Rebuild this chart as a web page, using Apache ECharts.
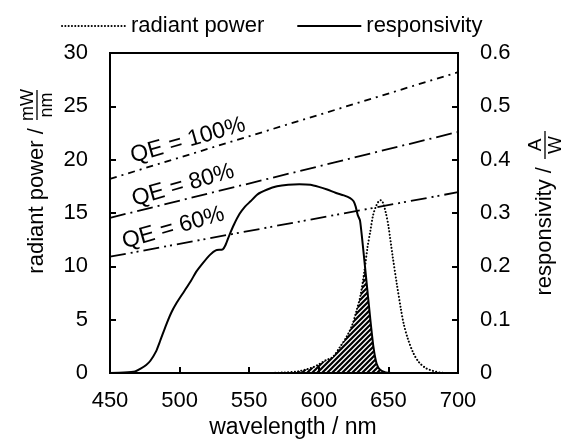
<!DOCTYPE html>
<html>
<head>
<meta charset="utf-8">
<script src="https://cdn.jsdelivr.net/npm/echarts@6/dist/echarts.min.js"></script>
<style>
    html, body { margin: 0; padding: 0; background: #fff; }
    #chart { width: 564px; height: 441px; }
</style>
</head>
<body>
<div id="chart"></div>
<script>
    // radiant power of the source, mW/nm
    const powerWl  = [450, 560, 575, 585, 590, 595, 600, 605, 610, 615, 620, 624, 627, 630, 633, 635, 637, 639, 641, 643, 644.5, 646, 648, 650, 653, 656, 659, 661, 664, 668, 672, 677, 682, 687, 695, 700];
    const powerVal = [0, 0, 0.05, 0.15, 0.3, 0.5, 0.8, 1.2, 1.5, 2.4, 3.4, 4.5, 5.8, 7.3, 9.8, 11.8, 13.3, 14.8, 15.6, 16.1, 16.2, 16.0, 15.1, 13.8, 11.0, 8.4, 6.0, 4.6, 3.2, 1.85, 1.0, 0.45, 0.2, 0.05, 0, 0];

    // detector responsivity, A/W
    const respWl  = [450, 460, 468, 472, 476, 479, 483, 486, 490, 494, 498, 503, 508, 512, 517, 522, 526, 531, 533, 536, 539, 543, 547, 551, 556, 563, 570, 578, 586, 594, 600, 606, 612, 618, 622.5, 625, 626.5, 628, 629.6, 632, 634.4, 636.8, 639.2, 641.5, 644, 648, 652, 700];
    const respVal = [0, 0.001, 0.003, 0.008, 0.015, 0.023, 0.04, 0.06, 0.088, 0.113, 0.132, 0.152, 0.172, 0.19, 0.207, 0.222, 0.23, 0.232, 0.24, 0.26, 0.278, 0.298, 0.312, 0.322, 0.335, 0.344, 0.35, 0.353, 0.354, 0.353, 0.349, 0.344, 0.338, 0.333, 0.328, 0.322, 0.312, 0.296, 0.286, 0.23, 0.168, 0.106, 0.05, 0.018, 0.006, 0.001, 0, 0];

    // hatched overlap, mW/nm scale
    const overlapWl  = [580, 585, 590, 595, 600, 605, 610, 615, 620, 624, 627, 630, 633.2, 634.4, 636.8, 639.2, 641.5, 644, 648, 650];
    const overlapVal = [0, 0.15, 0.3, 0.5, 0.8, 1.2, 1.5, 2.4, 3.4, 4.5, 5.8, 7.3, 10.0, 8.4, 5.3, 2.5, 0.9, 0.3, 0.05, 0];

    // quantum efficiency reference lines, A/W
    const qeWl  = [450, 700];
    const qe100 = [0.364, 0.564];
    const qe80  = [0.291, 0.452];
    const qe60  = [0.218, 0.339];
    const qeNames = ['QE = 100%', 'QE = 80%', 'QE = 60%'];
    const qeLabelAt = [[506, 21.8], [502.5, 17.6], [495.5, 13.6]];

    const pairs = (xs, ys) => xs.map((x, i) => [x, ys[i]]);
    const FONT = 'Liberation Sans, Arial, sans-serif';

    let hatch = document.createElement('canvas');
    hatch.width = 5; hatch.height = 5;
    let hc = hatch.getContext('2d');
    hc.strokeStyle = '#000';
    hc.lineWidth = 2.2;
    hc.beginPath();
    hc.moveTo(-1, 6); hc.lineTo(6, -1);
    hc.moveTo(-3.5, 3.5); hc.lineTo(3.5, -3.5);
    hc.moveTo(1.5, 8.5); hc.lineTo(8.5, 1.5);
    hc.stroke();

    let chart = echarts.init(document.getElementById('chart'));

    const qeLine = (name, data, dash) => ({
        name: name,
        type: 'line',
        yAxisIndex: 1,
        data: pairs(qeWl, data),
        symbol: 'none',
        silent: true,
        lineStyle: { color: '#000', width: 1.8, type: dash }
    });

    const option = {
        animation: false,
        textStyle: { fontFamily: FONT },
        legend: {
            data: ['radiant power', 'responsivity'],
            top: 10,
            left: 56,
            itemWidth: 64,
            itemGap: 32,
            itemStyle: { color: 'transparent', borderColor: 'transparent', borderWidth: 0 },
            textStyle: { fontSize: 22, color: '#000', fontFamily: FONT }
        },
        grid: {
            left: 110, right: 106, top: 53, bottom: 68,
            show: true, borderColor: '#000', borderWidth: 2
        },
        xAxis: {
            type: 'value',
            min: 450, max: 700, interval: 50,
            axisLine: { lineStyle: { color: '#000', width: 2 } },
            axisTick: { inside: true, length: 6, lineStyle: { color: '#000', width: 2 } },
            axisLabel: { fontSize: 22, color: '#000', margin: 17 },
            splitLine: { show: false }
        },
        yAxis: [{
            type: 'value',
            min: 0, max: 30, interval: 5,
            axisLine: { show: true, lineStyle: { color: '#000', width: 2 } },
            axisTick: { show: true, inside: true, length: 6, lineStyle: { color: '#000', width: 2 } },
            axisLabel: { fontSize: 22, color: '#000', margin: 22 },
            splitLine: { show: false }
        }, {
            type: 'value',
            min: 0, max: 0.6, interval: 0.1,
            position: 'right',
            axisLine: { show: true, lineStyle: { color: '#000', width: 2 } },
            axisTick: { show: true, inside: true, length: 6, lineStyle: { color: '#000', width: 2 } },
            axisLabel: { fontSize: 22, color: '#000', margin: 22 },
            splitLine: { show: false }
        }],
        series: [
            {
                name: 'overlap',
                type: 'line',
                data: pairs(overlapWl, overlapVal),
                symbol: 'none',
                silent: true,
                z: 1,
                lineStyle: { width: 0 },
                areaStyle: { color: { image: hatch, repeat: 'repeat' }, opacity: 1 }
            },
            qeLine('qe100', qe100, [7, 5, 2, 5]),
            qeLine('qe80', qe80, [16, 5, 2, 5]),
            qeLine('qe60', qe60, [16, 5, 2, 4, 2, 5]),
            {
                name: 'radiant power',
                type: 'line',
                data: pairs(powerWl, powerVal),
                symbol: 'none',
                smooth: 0.3,
                z: 3,
                itemStyle: { color: '#000' },
                lineStyle: { color: '#000', width: 2, type: [0.1, 3.2], cap: 'round' }
            },
            {
                name: 'responsivity',
                type: 'line',
                yAxisIndex: 1,
                data: pairs(respWl, respVal),
                symbol: 'none',
                smooth: 0.2,
                z: 4,
                itemStyle: { color: '#000' },
                lineStyle: { color: '#000', width: 2 }
            }
        ]
    };

    chart.setOption(option);

    // QE labels and axis titles with stacked unit fractions
    let graphics = qeNames.map((t, i) => {
        const p = chart.convertToPixel({ xAxisIndex: 0, yAxisIndex: 0 }, qeLabelAt[i]);
        return {
            type: 'text', x: p[0], y: p[1], rotation: 16 * Math.PI / 180,
            style: { text: t, fontSize: 23, fontFamily: FONT, fill: '#000', align: 'center', verticalAlign: 'middle' }
        };
    });

    const fracTitle = (x, y, label, top, bottom, w, fs) => ({
        type: 'group', x: x, y: y, rotation: Math.PI / 2,
        children: [
            { type: 'text', x: 0, y: 0, style: { text: label, fontSize: 22, fontFamily: FONT, fill: '#000', align: 'right', verticalAlign: 'middle' } },
            { type: 'text', x: 2 + w / 2, y: 0, style: { text: top, fontSize: fs, fontFamily: FONT, fill: '#000', align: 'center', verticalAlign: 'bottom' } },
            { type: 'line', shape: { x1: 2, y1: 0, x2: 2 + w, y2: 0 }, style: { stroke: '#000', lineWidth: 1.3 } },
            { type: 'text', x: 2 + w / 2, y: 1, style: { text: bottom, fontSize: fs, fontFamily: FONT, fill: '#000', align: 'center', verticalAlign: 'top' } }
        ]
    });

    graphics.push(fracTitle(37, 122, 'radiant power / ', 'mW', 'nm', 30, 18));
    graphics.push(fracTitle(545, 161, 'responsivity / ', 'A', 'W', 28, 19));
    graphics.push({
        type: 'text', x: 293, y: 428,
        style: { text: 'wavelength / nm', fontSize: 23, fontFamily: FONT, fill: '#000', align: 'center', verticalAlign: 'middle' }
    });

    chart.setOption({ graphic: graphics });

    window.addEventListener('resize', function () {
        chart.resize();
    });
</script>
</body>
</html>
